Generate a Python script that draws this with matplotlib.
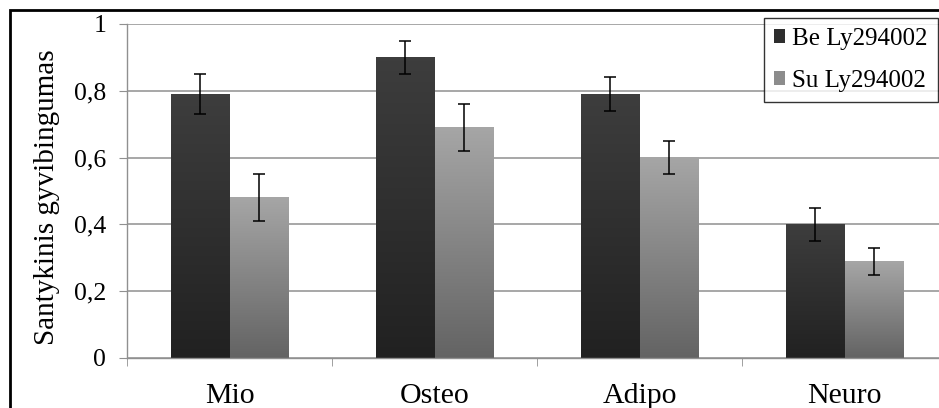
import matplotlib
matplotlib.use("Agg")
import matplotlib.pyplot as plt
import numpy as np
from matplotlib.patches import Patch, Rectangle

plt.rcParams['font.family'] = ['Liberation Serif', 'DejaVu Serif']

kategorijos = ['Mio', 'Osteo', 'Adipo', 'Neuro']
be_ly = [0.79, 0.90, 0.79, 0.40]
be_ly_err = [0.06, 0.05, 0.05, 0.05]
su_ly = [0.48, 0.69, 0.60, 0.29]
su_ly_err = [0.07, 0.07, 0.05, 0.04]
serijos = ['Be Ly294002', 'Su Ly294002']
y_ticks = [0, 0.2, 0.4, 0.6, 0.8, 1.0]
y_tick_labels = ['0', '0,2', '0,4', '0,6', '0,8', '1']

W, H = 939, 408
fig = plt.figure(figsize=(W / 100, H / 100), dpi=100)
ax = fig.add_axes([127 / W, (H - 358) / H, 820 / W, 334 / H])

x = np.arange(len(kategorijos))
bw = 0.283

bars1 = ax.bar(x - bw / 2, be_ly, bw, color='#2e2e2e', zorder=2)
bars2 = ax.bar(x + bw / 2, su_ly, bw, color='#888888', zorder=2)

# vertical gradient inside each bar
def gradient(bars, top, bottom):
    g = np.linspace(0, 1, 100).reshape(-1, 1)
    cols = np.array(top) * (1 - g) + np.array(bottom) * g
    img = np.repeat(cols[:, None, :], 2, axis=1)
    for b in bars:
        bx, bwid, bh = b.get_x(), b.get_width(), b.get_height()
        ax.imshow(img, extent=[bx, bx + bwid, 0, bh], aspect='auto',
                  zorder=2.5, interpolation='bilinear')

gradient(bars1, [0.24, 0.24, 0.24], [0.13, 0.13, 0.13])
gradient(bars2, [0.65, 0.65, 0.65], [0.39, 0.39, 0.39])

ax.errorbar(x - bw / 2, be_ly, yerr=be_ly_err, fmt='none', ecolor='black',
            elinewidth=1.1, capsize=4.5, capthick=1.1, zorder=4)
ax.errorbar(x + bw / 2, su_ly, yerr=su_ly_err, fmt='none', ecolor='black',
            elinewidth=1.1, capsize=4.5, capthick=1.1, zorder=4)

ax.set_xlim(-0.5, len(kategorijos) - 0.5)
ax.set_ylim(0, 1)
ax.set_yticks(y_ticks)
ax.set_yticklabels(y_tick_labels, fontsize=18.5)
ax.yaxis.grid(True, color='#a0a0a0', linewidth=1.3, zorder=0)
ax.set_axisbelow(True)

ax.set_xticks(x)
ax.set_xticklabels(kategorijos, fontsize=21.5)
ax.set_xticks(np.arange(-0.5, len(kategorijos)), minor=True)
ax.tick_params(axis='x', which='major', length=0, pad=18)
ax.tick_params(axis='x', which='minor', length=6, color='#909090', direction='out')
ax.tick_params(axis='y', length=6, color='#909090', direction='out', pad=9)

for s in ['top', 'right']:
    ax.spines[s].set_visible(False)
for s in ['left', 'bottom']:
    ax.spines[s].set_color('#909090')
    ax.spines[s].set_linewidth(1.0)

fig.text(47 / W, 1 - 197 / H, 'Santykinis gyvibingumas', rotation=90,
         fontsize=21, ha='center', va='center')

handles = [Patch(facecolor='#2e2e2e'), Patch(facecolor='#8c8c8c')]
leg = fig.legend(handles, serijos, loc='upper right',
                 bbox_to_anchor=(938 / W, 1 - 18 / H), bbox_transform=fig.transFigure,
                 fontsize=18, frameon=True, fancybox=False, borderaxespad=0,
                 handlelength=0.45, handleheight=0.45, handletextpad=0.3,
                 labelspacing=0.8, borderpad=0.4)
leg.get_frame().set_edgecolor('black')
leg.get_frame().set_linewidth(1.0)

# outer frame
fig.patches.append(Rectangle((10 / W, -0.1), 1.2, 1 - 10 / H + 0.1,
                             transform=fig.transFigure, fill=False,
                             edgecolor='black', linewidth=2))

fig.savefig('out.png', dpi=100)
